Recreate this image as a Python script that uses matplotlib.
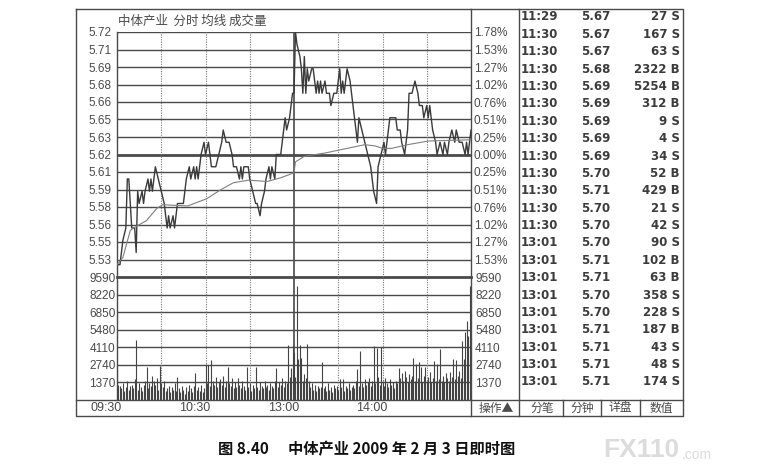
import numpy as np
import matplotlib.pyplot as plt

plt.rcParams['font.family'] = ['Liberation Sans', 'Noto Sans CJK SC', 'DejaVu Sans']

W, H = 763, 476

# ---- data ----
prev_close = 5.62
max_pct = 1.78
price_labels = ["5.72", "5.71", "5.69", "5.68", "5.66", "5.65", "5.63",
                "5.62", "5.61", "5.59", "5.58", "5.56", "5.55", "5.53"]
pct_labels = ["1.78%", "1.53%", "1.27%", "1.02%", "0.76%", "0.51%", "0.25%",
              "0.00%", "0.25%", "0.51%", "0.76%", "1.02%", "1.27%", "1.53%"]
vol_labels = ["9590", "8220", "6850", "5480", "4110", "2740", "1370"]
vol_max = 9590
time_labels = ["09:30", "10:30", "13:00", "14:00"]
time_label_minutes = [0, 60, 120, 180]

price_minutes = [
    0, 2, 4, 6, 7, 8, 9, 10, 12, 13, 14, 15, 17, 18, 19, 21, 22, 23, 24, 26,
    28, 30, 32, 34, 35, 36, 38, 39, 41, 43, 45, 47, 49, 50, 52, 53, 54, 55, 57, 59,
    60, 62, 63, 64, 67, 69, 71, 72, 74, 76, 78, 79, 81, 83, 84, 85, 86, 89, 90, 92,
    94, 95, 97, 98, 100, 101, 103, 104, 105, 107, 108, 111, 112, 113, 114, 115, 117, 118, 119, 120,
    121, 122, 124, 125, 126, 127, 128, 129, 130, 132, 133, 135, 136, 137, 138, 139, 141, 142, 144, 145,
    147, 149, 151, 152, 153, 154, 156, 158, 159, 161, 163, 164, 166, 168, 170, 172, 174, 176, 177, 179,
    181, 182, 184, 185, 187, 189, 190, 192, 193, 195, 197, 198, 200, 202, 204, 205, 207, 208, 210, 211,
    212, 214, 216, 217, 219, 221, 222, 224, 225, 227, 229, 230, 232, 234, 236, 237, 238, 239, 240]
price_values = [
    5.53, 5.53, 5.55, 5.56, 5.60, 5.60, 5.58, 5.56, 5.56, 5.54, 5.59, 5.58, 5.59, 5.58, 5.59, 5.60, 5.59, 5.60, 5.59, 5.61,
    5.60, 5.59, 5.58, 5.56, 5.57, 5.56, 5.57, 5.56, 5.58, 5.58, 5.58, 5.60, 5.61, 5.60, 5.61, 5.60, 5.61, 5.60, 5.62, 5.63,
    5.62, 5.63, 5.62, 5.61, 5.61, 5.62, 5.63, 5.64, 5.63, 5.63, 5.62, 5.61, 5.61, 5.60, 5.61, 5.60, 5.61, 5.61, 5.60, 5.59,
    5.58, 5.58, 5.57, 5.58, 5.59, 5.60, 5.61, 5.60, 5.61, 5.60, 5.62, 5.62, 5.63, 5.64, 5.65, 5.64, 5.65, 5.66, 5.67, 5.67,
    5.72, 5.71, 5.70, 5.69, 5.67, 5.70, 5.67, 5.69, 5.68, 5.69, 5.69, 5.67, 5.68, 5.67, 5.68, 5.67, 5.68, 5.67, 5.67, 5.66,
    5.67, 5.67, 5.69, 5.67, 5.68, 5.67, 5.69, 5.68, 5.67, 5.65, 5.63, 5.65, 5.64, 5.63, 5.62, 5.61, 5.59, 5.58, 5.61, 5.62,
    5.63, 5.62, 5.64, 5.65, 5.65, 5.65, 5.64, 5.64, 5.63, 5.62, 5.64, 5.67, 5.67, 5.68, 5.67, 5.66, 5.66, 5.65, 5.66, 5.65,
    5.66, 5.64, 5.63, 5.62, 5.63, 5.62, 5.63, 5.62, 5.63, 5.64, 5.63, 5.64, 5.63, 5.63, 5.62, 5.63, 5.62, 5.63, 5.64]

avg_minutes = [0, 4, 9, 14, 20, 27, 31, 48, 61, 70, 79, 89, 102, 111, 120,
               121, 127, 141, 152, 168, 175, 180, 186, 197, 211, 225, 240]
avg_values = [5.530, 5.536, 5.558, 5.562, 5.566, 5.576, 5.579, 5.578, 5.584, 5.591,
              5.597, 5.599, 5.598, 5.601, 5.605, 5.614, 5.6185, 5.6212, 5.624, 5.628,
              5.627, 5.625, 5.625, 5.628, 5.631, 5.6315, 5.632]

volumes = [
    2400, 1200, 1100, 900, 1300, 700, 1000, 1500, 800, 1100,
    1200, 900, 1600, 4680, 800, 1300, 1000, 700, 1200, 1500,
    2550, 900, 1300, 1100, 1870, 1500, 1200, 1700, 800, 2650,
    1300, 1000, 1500, 700, 900, 1100, 600, 1000, 800, 1300,
    700, 1770, 900, 600, 1100, 800, 500, 1000, 700, 1200,
    900, 600, 1100, 2080, 800, 1000, 700, 1200, 600, 900,
    2800, 1300, 2730, 1100, 3120, 1500, 1200, 1800, 1000, 1400,
    1600, 1200, 1900, 1000, 1500, 2550, 1300, 1100, 1700, 900,
    1400, 1000, 1700, 1200, 900, 1500, 1100, 800, 2550, 1000,
    1300, 700, 1200, 900, 2600, 1000, 800, 1400, 1100, 900,
    1500, 1000, 1200, 800, 1300, 1100, 900, 1500, 2470, 1000,
    1400, 1200, 1700, 1000, 1500, 1300, 4290, 1800, 2500, 4290,
    3640, 1800, 8900, 3200, 4290, 3280, 1500, 2030, 1700, 4370,
    1500, 1000, 1300, 800, 1200, 700, 1100, 900, 1000, 2940,
    900, 1100, 700, 1300, 800, 1000, 600, 1200, 900, 1100,
    800, 1640, 1000, 1640, 700, 1100, 900, 1300, 800, 1000,
    1200, 900, 1500, 2420, 1100, 3850, 1300, 1000, 1600, 1200,
    1400, 1700, 1100, 1500, 4240, 1300, 4060, 1800, 1200, 4110,
    1500, 1100, 1700, 1300, 1000, 1600, 1200, 1400, 900, 1500,
    1300, 2500, 1700, 2100, 1500, 2300, 1800, 1400, 2000, 1600,
    1900, 3280, 1500, 2800, 1700, 3000, 2550, 1400, 1900, 2550,
    1500, 1800, 2160, 1400, 1700, 3070, 1500, 2800, 1600, 3980,
    1500, 1900, 1400, 2100, 1700, 1500, 2200, 1800, 3200, 1600,
    3120, 1900, 2300, 1700, 4580, 3200, 5280, 6190, 5020, 8900,
    6840]

tick_times = ["11:29", "11:30", "11:30", "11:30", "11:30", "11:30", "11:30", "11:30",
              "11:30", "11:30", "11:30", "11:30", "11:30", "13:01", "13:01", "13:01",
              "13:01", "13:01", "13:01", "13:01", "13:01", "13:01"]
tick_prices = ["5.67", "5.67", "5.67", "5.68", "5.69", "5.69", "5.69", "5.69",
               "5.69", "5.70", "5.71", "5.70", "5.70", "5.70", "5.71", "5.71",
               "5.70", "5.70", "5.71", "5.71", "5.71", "5.71"]
tick_vols = [27, 167, 63, 2322, 5254, 312, 9, 4, 34, 52, 429, 21, 42, 90, 102, 63,
             358, 228, 187, 43, 48, 174]
tick_sides = ["S", "S", "S", "B", "B", "B", "S", "S", "S", "B", "B", "S", "S", "S",
              "B", "B", "S", "S", "B", "S", "S", "S"]

buttons = ["分笔", "分钟", "详盘", "数值"]

LINE = '#4a4a4a'
TEXT = '#4a4a4a'


def box(x0, y0, x1, y1):
    return [x0 / W, 1 - y1 / H, (x1 - x0) / W, (y1 - y0) / H]


fig = plt.figure(figsize=(W / 100, H / 100), dpi=100)
fig.patch.set_facecolor('white')

# background layer in pixel coordinates for the frame and table
bg = fig.add_axes([0, 0, 1, 1], zorder=0)
bg.set_xlim(0, W)
bg.set_ylim(H, 0)
bg.axis('off')

L, R, TOP, BOT = 76, 683, 9, 416
PL, PR = 117, 471
TBL = 519
bg.plot([L, R, R, L, L], [TOP, TOP, BOT, BOT, TOP], color=LINE, lw=1)
bg.plot([PR, PR], [TOP, BOT], color=LINE, lw=1)
bg.plot([TBL, TBL], [TOP, BOT], color=LINE, lw=1)
bg.plot([PL, PL], [32, 400], color=LINE, lw=1)
bg.plot([L, R], [400, 400], color=LINE, lw=1)
for bx in [563, 601, 640]:
    bg.plot([bx, bx], [400, BOT], color=LINE, lw=1)

bg.text(PL + 1, 21, "中体产业  分时 均线 成交量", fontsize=9, color=TEXT,
        family=['Noto Sans CJK SC'], va='center', ha='left')

# ---- price panel ----
ax_p = fig.add_axes(box(PL, 32, PR, 277), zorder=2)
ax_p.patch.set_alpha(0)
lo = prev_close * (1 - max_pct / 100)
hi = prev_close * (1 + max_pct / 100)
steps = np.arange(7, -7, -1)
levels = prev_close * (1 + steps * max_pct / 7 / 100)
ax_p.set_xlim(0, 240)
ax_p.set_ylim(lo, hi)
for lv, st in zip(levels, steps):
    ax_p.axhline(lv, color=LINE, lw=2.0 if st == 0 else 1.0, zorder=1)
ax_p.axhline(lo, color=LINE, lw=2.0, zorder=1, clip_on=False)
for m in [30, 60, 90, 150, 180, 210]:
    ax_p.axvline(m, color='#777777', lw=0.8, ls=(0, (1, 1.2)), zorder=1)
ax_p.axvline(120, color=LINE, lw=1.2, zorder=1)

ax_p.plot(price_minutes, price_values, color='#3a3a3a', lw=1.0, zorder=3)
ax_p.plot(avg_minutes, avg_values, color='#808080', lw=0.8, zorder=3)

ax_p.set_xticks([])
ax_p.set_yticks(levels)
ax_p.set_yticklabels(price_labels)
ax_p.tick_params(axis='y', length=0, pad=4, labelsize=8.5, labelcolor=TEXT)
for s in ax_p.spines.values():
    s.set_visible(False)
ax_pr = ax_p.twinx()
ax_pr.set_ylim(lo, hi)
ax_pr.set_yticks(levels)
ax_pr.set_yticklabels(pct_labels)
ax_pr.tick_params(axis='y', length=0, pad=2, labelsize=8.5, labelcolor=TEXT)
for s in ax_pr.spines.values():
    s.set_visible(False)

# ---- volume panel ----
ax_v = fig.add_axes(box(PL, 277, PR, 400), zorder=2)
ax_v.patch.set_alpha(0)
ax_v.set_xlim(0, 240)
ax_v.set_ylim(0, vol_max)
vol_levels = [int(v) for v in vol_labels]
for lv in vol_levels[1:]:
    ax_v.axhline(lv, color=LINE, lw=1.0, zorder=1)
for m in [30, 60, 90, 150, 180, 210]:
    ax_v.axvline(m, color='#777777', lw=0.8, ls=(0, (1, 1.2)), zorder=1)
ax_v.axvline(120, color=LINE, lw=1.2, zorder=1)
ax_v.vlines(np.arange(len(volumes)), 0, volumes, color='#444444', lw=0.8, zorder=3)
ax_v.set_xticks([])
ax_v.set_yticks(vol_levels)
ax_v.set_yticklabels(vol_labels)
ax_v.tick_params(axis='y', length=0, pad=1, labelsize=8.5, labelcolor=TEXT)
for s in ax_v.spines.values():
    s.set_visible(False)
ax_vr = ax_v.twinx()
ax_vr.set_ylim(0, vol_max)
ax_vr.set_yticks(vol_levels)
ax_vr.set_yticklabels(vol_labels)
ax_vr.tick_params(axis='y', length=0, pad=3, labelsize=8.5, labelcolor=TEXT)
for s in ax_vr.spines.values():
    s.set_visible(False)

# time labels under the volume panel
for lab, m in zip(time_labels, time_label_minutes):
    x = PL + (PR - PL) * m / 240 + 5
    bg.text(x, 408, lab, fontsize=9, color=TEXT, ha='right', va='center')

bg.text(496, 408, "操作▲", fontsize=8.5, color=TEXT, ha='center', va='center',
        family=['Noto Sans CJK SC', 'DejaVu Sans'])
for lab, cx in zip(buttons, [542, 582, 620, 661]):
    bg.text(cx, 408, lab, fontsize=8.5, color=TEXT, ha='center', va='center',
            family=['Noto Sans CJK SC'])

# ---- tick table ----
for i, (t, p, v, sd) in enumerate(zip(tick_times, tick_prices, tick_vols, tick_sides)):
    y = 17 + i * 17.38
    kw = dict(fontsize=8.5, color='#3c3c3c', va='center', family=['DejaVu Sans'],
              weight='bold')
    bg.text(521, y, t, ha='left', **kw)
    bg.text(596, y, p, ha='center', **kw)
    bg.text(680, y, f"{v} {sd}", ha='right', **kw)

# ---- caption and watermark ----
bg.text(218, 449, "图 8.40", fontsize=11, weight='bold', color='#111111',
        family=['Noto Sans CJK SC'], va='center', ha='left')
bg.text(288, 449, "中体产业 2009 年 2 月 3 日即时图", fontsize=11, weight='bold',
        color='#111111', family=['Noto Sans CJK SC'], va='center', ha='left')
bg.text(603, 450, "FX110", fontsize=19, weight='bold', color='#dcdcdc',
        va='center', ha='left', family=['Liberation Sans'])
bg.text(682, 455, ".com", fontsize=10, color='#dcdcdc', va='center', ha='left')

fig.savefig("out.png", dpi=100, facecolor='white')
